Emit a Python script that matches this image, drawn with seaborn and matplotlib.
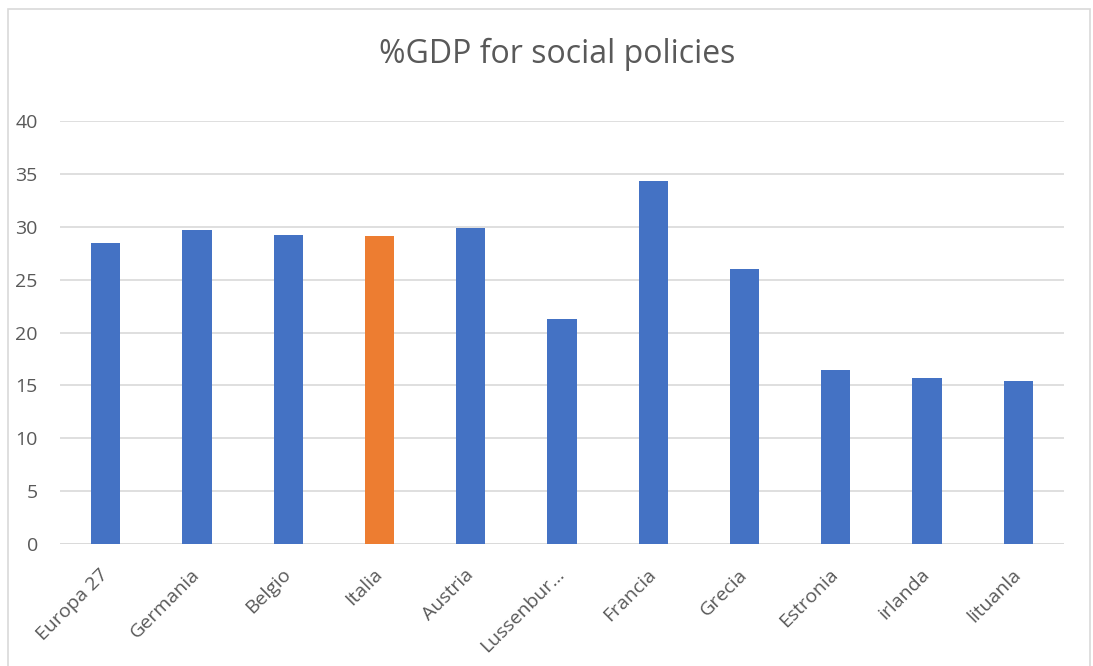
import matplotlib
matplotlib.use("Agg")
import matplotlib.pyplot as plt
import seaborn as sns
import pandas as pd
from matplotlib.patches import Rectangle

categories = ["Europa 27", "Germania", "Belgio", "Italia", "Austria", "Lussenbur…",
              "Francia", "Grecia", "Estronia", "irlanda", "lituanla"]
values = [28.5, 29.7, 29.2, 29.1, 29.9, 21.3, 34.3, 26.0, 16.5, 15.7, 15.4]
colors = ["#4472C4", "#4472C4", "#4472C4", "#ED7D31", "#4472C4", "#4472C4",
          "#4472C4", "#4472C4", "#4472C4", "#4472C4", "#4472C4"]
yticks = [0, 5, 10, 15, 20, 25, 30, 35, 40]
title = "%GDP for social policies"

sns.set_theme(style="white")
plt.rcParams["font.family"] = ["Open Sans", "DejaVu Sans"]

df = pd.DataFrame({"country": categories, "value": values})

fig = plt.figure(figsize=(10.93, 6.66), dpi=100)
ax = fig.add_axes([60 / 1093, 1 - 544 / 666, (1064 - 60) / 1093, (544 - 121) / 666])

sns.barplot(data=df, x="country", y="value", hue="country",
            palette=colors, legend=False, width=0.32, ax=ax,
            saturation=1, edgecolor="none", zorder=3)

ax.set_ylim(0, 40)
ax.set_xlim(-0.5, len(categories) - 0.5)
ax.set_yticks(yticks)
ax.set_yticklabels([str(t) for t in yticks])
ax.yaxis.grid(True, color="#D9D9D9", linewidth=1.2, zorder=0)
ax.set_axisbelow(True)
for s in ax.spines.values():
    s.set_visible(False)
ax.axhline(0, color="#D9D9D9", linewidth=1.2, zorder=1)

ax.set_xlabel("")
ax.set_ylabel("")
ax.tick_params(axis="y", length=0, pad=16, labelsize=14, labelcolor="#595959")
ax.tick_params(axis="x", length=0, pad=20, labelsize=14, labelcolor="#595959")
for lbl in ax.get_xticklabels():
    lbl.set_rotation(45)
    lbl.set_ha("right")
    lbl.set_va("center")
    lbl.set_rotation_mode("anchor")

fig.text(557 / 1093, 1 - 54 / 666, title, ha="center", va="center",
         fontsize=23, color="#595959")

fig.patches.append(Rectangle((8 / 1093, -10 / 666), (1090 - 8) / 1093, (657 + 10) / 666,
                             transform=fig.transFigure, fill=False,
                             edgecolor="#D9D9D9", linewidth=1.2))

fig.savefig("out.png", dpi=100)
